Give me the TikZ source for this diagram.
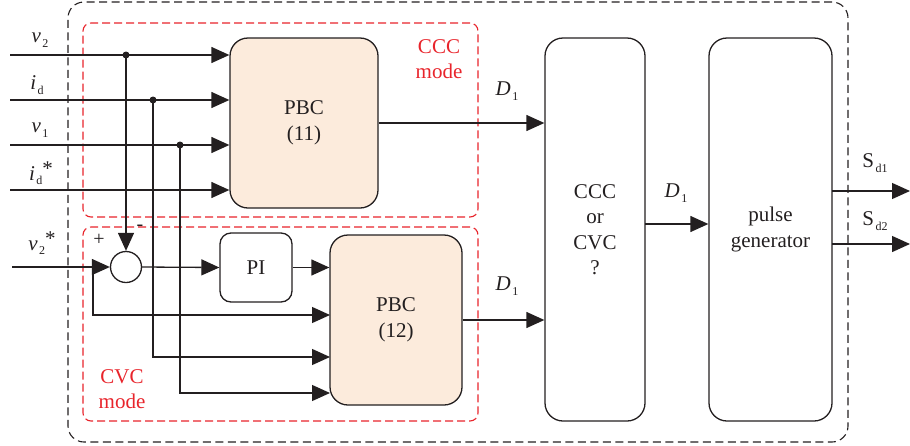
\documentclass[tikz,border=0pt]{standalone}
\usepackage{fontspec}
\setmainfont{Liberation Serif}
\usetikzlibrary{arrows.meta}
\definecolor{ink}{HTML}{231F20}
\definecolor{grpred}{HTML}{E8242B}
\definecolor{peach}{HTML}{FCEBDC}
\newcommand\sbx[1]{\raisebox{-4.5pt}{\kern1.5pt\fontsize{12}{12}\selectfont #1}}
\newcommand\mainf{\fontsize{21}{25.5}\selectfont}
\newcommand\labf{\fontsize{21}{22}\selectfont}
\newcommand\signf{\fontsize{20}{20}\selectfont}
\tikzset{
  blk/.style={draw=ink, line width=1.3pt, rounded corners=18pt, align=center, inner sep=0pt, font=\mainf, text=ink},
  arr/.style={draw=ink, line width=1.3pt, -{Triangle[length=18pt,width=16pt]}},
  grp/.style={draw=grpred, line width=1.1pt, dash pattern=on 8pt off 4pt, rounded corners=8pt, inner sep=0pt},
  outer/.style={draw=ink, line width=1.1pt, dash pattern=on 8pt off 4.5pt, rounded corners=16pt, inner sep=0pt},
  lab/.style={font=\labf, text=ink, inner sep=0pt},
  signlab/.style={font=\signf, text=ink, inner sep=0pt},
  grplab/.style={font=\mainf, text=grpred, align=center, inner sep=0pt},
  dot/.style={circle, fill=ink, inner sep=0pt, minimum size=7pt}
}
\begin{document}
\begin{tikzpicture}[x=1pt,y=-1pt]
\useasboundingbox (0,0) rectangle (910,445);
% group boxes
\node[outer, minimum width=780, minimum height=440] (out) at (458,222) {};
\node[grp, minimum width=395, minimum height=194] (ccc) at (280.5,120) {};
\node[grp, minimum width=395, minimum height=194] (cvc) at (280.5,324) {};
\node[grplab] (ccclab) at (439,59) {CCC\\mode};
\node[grplab] (cvclab) at (122,389) {CVC\\mode};
% blocks
\node[blk, fill=peach, minimum width=148, minimum height=170] (pbc11) at (304,123) {PBC\\(11)};
\node[blk, fill=peach, minimum width=132, minimum height=170] (pbc12) at (396,320) {PBC\\(12)};
\node[blk, rounded corners=11pt, minimum width=72, minimum height=69] (pi) at (256,267.5) {PI};
\node[blk, minimum width=100, minimum height=383] (sel) at (595,229.5) {CCC\\or\\CVC\\?};
\node[blk, minimum width=123, minimum height=383] (pg) at (770.5,229.5) {pulse\\generator};
\node[draw=ink, line width=1.3pt, circle, minimum size=31pt, inner sep=0pt] (sum) at (126,267) {};
% inputs
\coordinate (i1) at (10,55);
\coordinate (i2) at (10,100);
\coordinate (i3) at (10,145);
\coordinate (i4) at (10,190);
\coordinate (i5) at (12,267);
\draw[arr] (i1) -- (i1 -| pbc11.west);
\draw[arr] (i2) -- (i2 -| pbc11.west);
\draw[arr] (i3) -- (i3 -| pbc11.west);
\draw[arr] (i4) -- (i4 -| pbc11.west);
\draw[arr] (i5) -- (sum.west);
\node[dot] (d1) at (126,55) {};
\node[dot] (d2) at (153,100) {};
\node[dot] (d3) at (180,145) {};
\coordinate (fb) at (93,267);
\coordinate (p12a) at (330,315);
\coordinate (p12b) at (330,357);
\coordinate (p12c) at (330,393);
\draw[arr] (d1.center) -- (sum.north);
\draw[arr] (fb) |- (p12a);
\draw[arr] (d2.center) |- (p12b);
\draw[arr] (d3.center) |- (p12c);
\draw[arr] (sum.east) -- (pi.west);
\draw[arr] (pi.east) -- (pi.east -| pbc12.west);
% outputs
\draw[arr] (pbc11.east) -- (pbc11.east -| sel.west);
\draw[arr] (pbc12.east) -- (pbc12.east -| sel.west);
\coordinate (s1) at (645,224);
\draw[arr] (s1) -- (s1 -| pg.west);
\coordinate (o1) at (832,191);
\coordinate (o2) at (832,244);
\coordinate (e1) at (910,191);
\coordinate (e2) at (910,244);
\draw[arr] (o1) -- (e1);
\draw[arr] (o2) -- (e2);
% labels
\node[lab] (lv2) at (40,40) {\textit{v}\sbx{2}};
\node[lab] (lid) at (37,85) {\textit{i}\sbx{d}};
\node[lab] (lv1) at (40,130) {\textit{v}\sbx{1}};
\node[lab] (lids) at (41,173) {\textit{i}\sbx{d}\raisebox{5pt}{*}};
\node[lab] (lv2s) at (42,243) {\textit{v}\sbx{2}\raisebox{5pt}{*}};
\node[signlab] (plus) at (99,240) {+};
\node[signlab] (minus) at (140,228) {-};
\node[lab] (ld1) at (507,91) {\textit{D}\sbx{1}};
\node[lab] (ld2) at (507,286) {\textit{D}\sbx{1}};
\node[lab] (ld3) at (676,193) {\textit{D}\sbx{1}};
\node[lab] (lsd1) at (875,163) {S\sbx{d1}};
\node[lab] (lsd2) at (875,221) {S\sbx{d2}};
\end{tikzpicture}
\end{document}
